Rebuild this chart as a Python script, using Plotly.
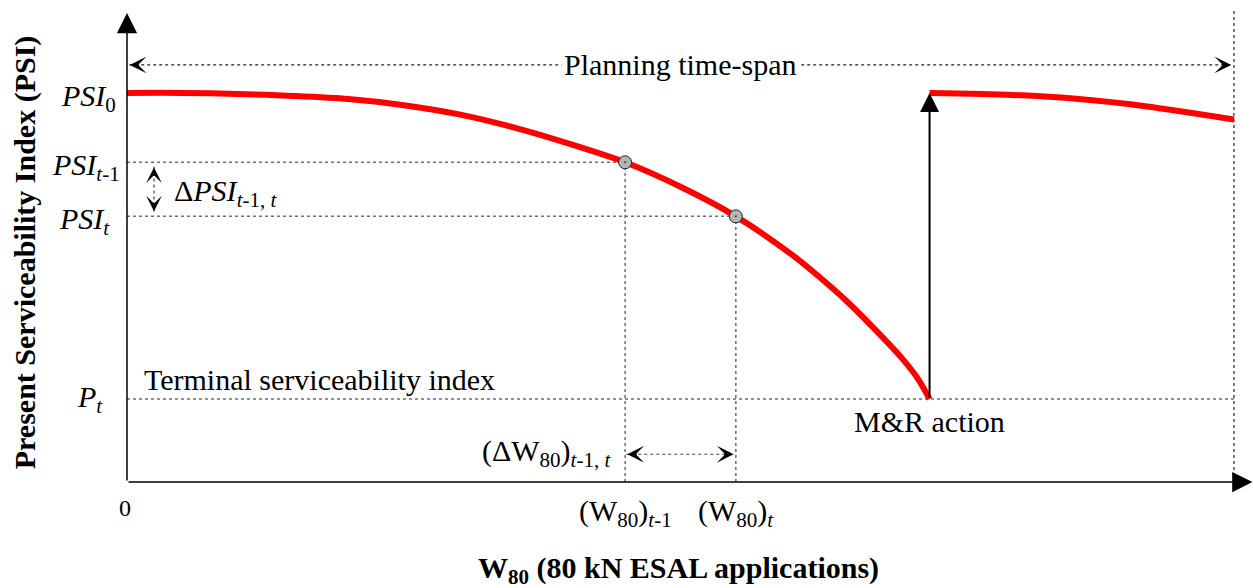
import plotly.graph_objects as go

# ---------------- data ----------------
W_DECAY = [0, 5, 10, 15, 20, 25, 30, 35, 40, 45, 50, 55, 60, 62.5, 65, 67.5, 70, 71.5, 72.5]
PSI_DECAY = [4.50, 4.50, 4.49, 4.47, 4.44, 4.38, 4.29, 4.16, 4.00, 3.82, 3.58, 3.29, 2.92,
             2.70, 2.46, 2.19, 1.90, 1.69, 1.50]
W_AFTER = [72.5, 80, 86, 92, 100]
PSI_AFTER = [4.50, 4.48, 4.44, 4.37, 4.24]

W_POINTS = [45, 55]            # (W80)t-1, (W80)t
PSI_POINTS = [3.82, 3.29]      # PSI t-1, PSI t
PSI0 = 4.50
PT = 1.50
W_MR = 72.5
T_PLAN = 100

FONT = "Liberation Serif"
FS = 30

# axis extents (figure geometry)
X_MIN, X_MAX = 0, 101.72
Y_MIN, Y_MAX = 0.686, 5.313
Y_SPAN_ARROW = 4.775           # level of the planning time-span arrow
Y_DW_ARROW = 0.958             # level of the (dW80) arrow
X_DPSI_ARROW = 2.44            # position of the dPSI arrow


def px(x):
    return (x - X_MIN) / (X_MAX - X_MIN)


def py(y):
    return (y - Y_MIN) / (Y_MAX - Y_MIN)


fig = go.Figure()

GRAY = "#6e6e6e"
shapes = []


def dline(x0, y0, x1, y1, color=GRAY, width=1.5, dash="3px,3px"):
    shapes.append(dict(type="line", xref="x", yref="y", x0=x0, y0=y0, x1=x1, y1=y1,
                       line=dict(color=color, width=width, dash=dash), layer="below"))


# reference dashed lines
dline(0, PSI_POINTS[0], W_POINTS[0], PSI_POINTS[0])
dline(0, PSI_POINTS[1], W_POINTS[1], PSI_POINTS[1])
dline(W_POINTS[0], Y_MIN, W_POINTS[0], PSI_POINTS[0])
dline(W_POINTS[1], Y_MIN, W_POINTS[1], PSI_POINTS[1])
dline(0, PT, T_PLAN, PT)
dline(T_PLAN, Y_MIN, T_PLAN, Y_MAX, color="#222222", width=1.2, dash="3px,3px")
dline(0.2, Y_SPAN_ARROW, T_PLAN - 0.2, Y_SPAN_ARROW, color="#222222", width=1.2, dash="3px,3px")
dline(X_DPSI_ARROW, PSI_POINTS[0] - 0.04, X_DPSI_ARROW, PSI_POINTS[1] + 0.04,
      color="#444444", width=1.2, dash="3px,3px")
dline(W_POINTS[0] + 0.1, Y_DW_ARROW, W_POINTS[1] - 0.1, Y_DW_ARROW,
      color="#444444", width=1.2, dash="3px,3px")

# red serviceability curves
fig.add_trace(go.Scatter(x=W_DECAY, y=PSI_DECAY, mode="lines",
                         line=dict(color="#ff0000", width=6, shape="spline", smoothing=0.8),
                         hoverinfo="skip", showlegend=False))
fig.add_trace(go.Scatter(x=W_AFTER, y=PSI_AFTER, mode="lines",
                         line=dict(color="#ff0000", width=6, shape="spline", smoothing=0.8),
                         hoverinfo="skip", showlegend=False))
# grey points
fig.add_trace(go.Scatter(x=W_POINTS, y=PSI_POINTS, mode="markers",
                         marker=dict(size=13, color="#b4b4b4", line=dict(color="#222222", width=1)),
                         hoverinfo="skip", showlegend=False))
fig.add_trace(go.Scatter(x=W_POINTS, y=PSI_POINTS, mode="markers",
                         marker=dict(size=2, color="#333333"),
                         hoverinfo="skip", showlegend=False))

ann = []


def arrow(x, y, ax, ay, head=2, width=1.5, size=2.0, color="black", ref=True):
    d = dict(x=x, y=y, xref="x", yref="y", text="", showarrow=True,
             arrowhead=head, arrowwidth=width, arrowsize=size, arrowcolor=color,
             ax=ax, ay=ay, standoff=0)
    if ref:
        d.update(axref="x", ayref="y")
    ann.append(d)


# axes
arrow(0, Y_MAX - 0.03, 0, Y_MIN, head=2, width=1.5, size=2.7)
arrow(X_MAX - 0.05, Y_MIN, 0, Y_MIN, head=2, width=1.5, size=2.7)
# M&R action arrow
arrow(W_MR, PSI0, W_MR, PT, head=2, width=2, size=1.9)
# dashed-arrow heads (short solid stubs under the heads)
arrow(0.25, Y_SPAN_ARROW, 11, 0, head=3, width=1, size=2.8, ref=False)
arrow(T_PLAN - 0.25, Y_SPAN_ARROW, -11, 0, head=3, width=1, size=2.8, ref=False)
arrow(X_DPSI_ARROW, PSI_POINTS[0] - 0.05, 0, 10, head=3, width=1, size=2.6, ref=False)
arrow(X_DPSI_ARROW, PSI_POINTS[1] + 0.05, 0, -10, head=3, width=1, size=2.6, ref=False)
arrow(W_POINTS[0] + 0.2, Y_DW_ARROW, 11, 0, head=3, width=1, size=2.8, ref=False)
arrow(W_POINTS[1] - 0.2, Y_DW_ARROW, -11, 0, head=3, width=1, size=2.8, ref=False)


def text(x, y, s, xanchor="center", yanchor="middle", size=FS, bg=None, angle=0, yshift=0):
    d = dict(x=px(x), y=py(y), xref="paper", yref="paper", text=s, showarrow=False,
             xanchor=xanchor, yanchor=yanchor, textangle=angle, yshift=yshift,
             font=dict(family=FONT, size=size, color="black"))
    if bg:
        d.update(bgcolor=bg, borderpad=2)
    ann.append(d)


text(T_PLAN / 2, Y_SPAN_ARROW, "Planning time-span", bg="white")
text(-0.81, PSI0, "<i>PSI</i><sub>0</sub>", xanchor="right", yshift=-5)
text(-0.45, PSI_POINTS[0], "<i>PSI</i><sub><i>t</i>-1</sub>", xanchor="right", yshift=-5)
text(-1.35, PSI_POINTS[1], "<i>PSI</i><sub><i>t</i></sub>", xanchor="right", yshift=-5)
text(4.07, 3.55, "Δ<i>PSI</i><sub><i>t</i>-1, <i>t</i></sub>", xanchor="left", yshift=-3)
text(-2.0, PT, "<i>P</i><sub><i>t</i></sub>", xanchor="right", yshift=0)
text(1.36, 1.686, "Terminal serviceability index", xanchor="left")
text(W_MR, 1.275, "M&amp;R action")
text(43.9, 0.99, "(ΔW<sub>80</sub>)<sub><i>t</i>-1, <i>t</i></sub>", xanchor="right", yshift=-2)
text(W_POINTS[0], 0.43, "(W<sub>80</sub>)<sub><i>t</i>-1</sub>", yshift=-5)
text(W_POINTS[1], 0.43, "(W<sub>80</sub>)<sub><i>t</i></sub>", yshift=-5)
text(-0.2, 0.43, "0", size=24)
text(49.8, -0.13, "<b>W<sub>80</sub> (80 kN ESAL applications)</b>", yshift=-5)
text(-9.2, 2.94, "<b>Present Serviceability Index (PSI)</b>", angle=-90)

fig.update_layout(
    width=1253, height=588,
    margin=dict(l=127, r=0, t=10, b=106, pad=0),
    paper_bgcolor="white", plot_bgcolor="white",
    xaxis=dict(range=[X_MIN, X_MAX], visible=False, fixedrange=True),
    yaxis=dict(range=[Y_MIN, Y_MAX], visible=False, fixedrange=True),
    shapes=shapes, annotations=ann, showlegend=False,
)
fig.write_html("out.html")
